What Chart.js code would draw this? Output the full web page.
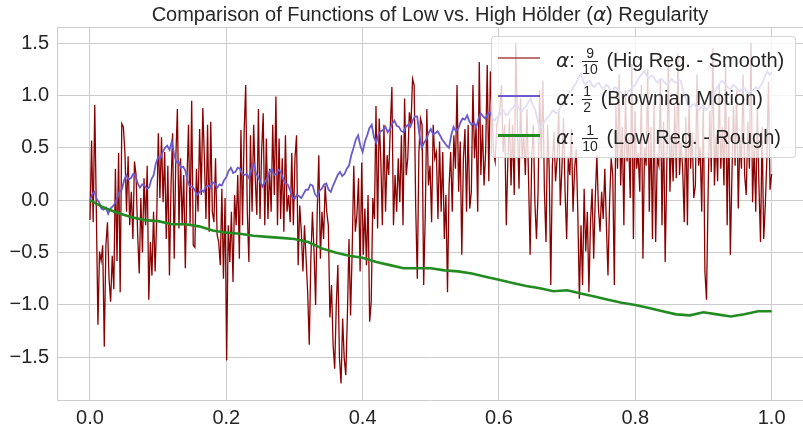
<!DOCTYPE html>
<html lang="en">
<head>
<meta charset="UTF-8">
<title>Hölder regularity</title>
<script src="https://cdn.jsdelivr.net/npm/chart.js@4.4.1/dist/chart.umd.min.js"></script>
<style>
  body { margin: 0; background: #fff; }
  #wrap { position: relative; width: 803px; height: 425px; }
  #legend {
    position: absolute; left: 491px; top: 36px; width: 303px; height: 120px;
    background: rgba(255,255,255,0.8); border: 1px solid rgba(204,204,204,0.8); border-radius: 4px;
    font-family: "Liberation Sans", Arial, sans-serif; font-size: 20px; color: #262626;
  }
  .row { position: absolute; left: 0; height: 0; }
  .handle { position: absolute; left: 6px; width: 42px; top: -1px; height: 2px; }
  .label { position: absolute; left: 64px; top: -12px; white-space: nowrap; line-height: 24px; }
  .alpha { font-family: "DejaVu Sans"; font-style: italic; }
  .frac { display: inline-block; vertical-align: middle; text-align: center; font-size: 14px; line-height: 15px; margin: 0 3px 0 2px; }
  .frac span { display: block; }
  .frac .num { border-bottom: 1.3px solid #262626; padding: 0 1px; }
</style>
</head>
<body>
<div id="wrap">
  <canvas id="chart" width="803" height="425"></canvas>
  <div id="legend">
    <div class="row" style="top:21px"><div class="handle" style="background:rgba(139,0,0,0.55)"></div>
      <div class="label"><span class="alpha">α</span>: <span class="frac"><span class="num">9</span><span>10</span></span> (Hig Reg. - Smooth)</div></div>
    <div class="row" style="top:59px"><div class="handle" style="background:#6a5acd"></div>
      <div class="label"><span class="alpha">α</span>: <span class="frac"><span class="num">1</span><span>2</span></span> (Brownian Motion)</div></div>
    <div class="row" style="top:98px"><div class="handle" style="background:#228b22;height:3px;top:-1.5px"></div>
      <div class="label"><span class="alpha">α</span>: <span class="frac"><span class="num">1</span><span>10</span></span> (Low Reg. - Rough)</div></div>
  </div>
</div>

<script>
// title pieces (alpha drawn in italic)
var TITLE_PARTS = ['Comparison of Functions of Low vs. High Hölder (', 'α', ') Regularity'];
var SERIES_LABELS = ['α: 9/10 (Hig Reg. - Smooth)', 'α: 1/2 (Brownian Motion)', 'α: 1/10 (Low Reg. - Rough)'];
var X_TICKS = [0, 0.2, 0.4, 0.6, 0.8, 1.0];
var Y_TICKS = [-1.5, -1.0, -0.5, 0, 0.5, 1.0, 1.5];

var redPart1 = [-0.19, 0.57, -0.21, 0.91, -0.11, -1.19, -0.49, -0.58, -0.43, -1.40,
  -0.43, -0.21, -0.75, -0.97, -0.53, -0.85, 0.30, -0.58, 0.45, -0.88,
  0.73, 0.70, 0.45, -0.11, 0.42, -0.24, 0.08, -0.37, 0.37, 0.24,
  -0.33, -0.70, 0.02, -0.50, 0.21, -0.24, 0.33, -0.95, -0.40, -0.72,
  -0.11, -0.68, -0.16, 0.64, 0.02, 0.60, -0.02, 0.46, -0.37, 0.33,
  -0.72, 0.14, 0.64, -0.56, 0.40, 0.87, -0.27, 0.40, -0.24, 0.24,
  -0.65, 0.18, 0.72, -0.24, 0.95, -0.43, -0.45, 0.30, -0.11, 0.68,
  0.05, 0.88, 0.40, -0.18, 0.72, -0.30, 0.75, -0.11, -0.21, 0.40,
  -0.33, -0.40, -0.62, 0.11, -0.75, 0.02, -1.53, -0.24, -0.59, -0.11,
  -0.78, 0.05, -0.24, 0.24, -0.56, 0.67, -0.24, 0.65, 1.10, -0.11,
  -0.59, 0.62, -0.11, 0.72];
var redPart2 = [0.21, -0.14, 0.87, -0.18, 0.46, 0.83, -0.24, 0.59, -0.18, 0.30,
  -0.11, 0.72, 0.05, 0.99, -0.24, 0.59, -0.18, 0.40, -0.30, 0.62,
  -0.11, 0.05, -0.21, 0.45, -0.24, 0.40, 0.62, -0.62, -0.05, -0.30,
  -0.68, -0.24, -0.56, -0.88, -1.38, -0.56, -0.11, -0.49, -1.00, -0.11,
  0.43, -0.56, -0.11, -0.37, 0.14, -0.11, -0.24, -1.12, -0.81, -1.38,
  -1.61, -1.00, -0.62, -1.51, -1.75, -1.13, -1.51, -1.67, -1.10, -0.37,
  -1.10, -0.49, 0.33, -0.30, -0.14, 0.21, -0.68, 0.36, -0.52, -0.08,
  -0.62, 0.05, -1.16, -0.97, 0.02, -0.18, 0.90, -0.27, 0.78, 0.40,
  -0.24, 0.72, -0.11, 0.43, 0.24, 0.70, 1.08, -0.24, 0.24, -0.11,
  0.40, -0.02, 0.62, -0.24, 0.97, 0.24, 0.40, 0.84, 0.72, 1.16,
  1.10, -0.08, -0.75, 0.46, 0.78, 0.72, -0.81, -0.14, 0.87, 0.14,
  0.33, -0.21, 0.72, 0.40, 0.46];
var redPart3 = [-0.18, 0.56, -0.11, 0.46, -0.37, 0.05, -0.88, 0.14, 0.46, -0.11,
  0.62, 0.30, 1.10, 0.08, 0.56, -0.52, 0.40, 0.68, -0.11, 0.72,
  -0.08, 0.08, 1.10, 0.40, 0.72, -0.11, 1.32, 0.24, 0.72, 0.14,
  0.46, 1.29, 0.18, 1.23, 0.84, 0.46, 0.37, 0.72, 0.78, 0.87,
  1.10, 0.46, 0.72, -0.24, 0.40, 0.78, 0.14, 0.72, 0.05, 1.50,
  0.72, 0.11, 0.97, 0.40, 0.62, 0.24, 0.87, 0.21, -0.52, 0.40,
  0.72, -0.02, -0.37, 0.08, 1.05, 0.40, 1.14, 0.08, -0.40, 0.72,
  0.30, -0.81, 0.33, 0.65, 0.18, 0.40, 0.87, -0.05, 0.30, 0.78,
  0.08, -0.37, 0.40, 0.24, 0.68, -0.11, 0.30, 0.49, -0.11, -0.94,
  -0.24, -0.81, 0.11, -0.49, -0.11, -0.88, -0.21, 0.11, -0.56, 0.02,
  0.43, -0.08, -0.30, 0.08, -0.18, 0.30, -0.24, -0.72, -0.02, 0.40, 0.24];
var redPart4 = [-0.81, 0.90, 0.30, 1.20, 0.14, 0.70, -0.24, 1.05, 0.37, 0.60,
  0.02, 1.30, -0.37, 0.85, 0.30, 0.45, 0.08, 1.10, -0.56, 0.50,
  0.33, 1.25, -0.11, 0.70, -0.37, 0.95, -0.40, 0.40, 0.33, 1.15,
  -0.24, 0.75, -0.59, 0.30, 1.35, 0.08, 0.60, 0.18, 0.90, 0.21,
  1.40, 0.24, 0.55, 0.30, -0.21, 0.80, -0.24, 1.00, 0.30, 0.65,
  0.02, 0.14, 1.20, 0.33, 0.50, -0.11, 0.95, -0.68, -0.95, 0.05,
  0.85, 0.27, 1.45, 0.14, 0.62, 0.18, 1.10, 0.30, 0.70, 0.14,
  1.30, -0.24, 0.80, -0.52, 0.24, 0.90, 0.33, 1.05, -0.08, 0.60,
  0.30, 1.20, 0.24, 0.05, 0.75, 0.30, 1.50, -0.02, 0.50, -0.11,
  0.90, 0.14, -0.40, 0.70, -0.37, -0.05, 0.40, 1.13, 0.10, 0.25];
var redValues = redPart1.concat(redPart2, redPart3, redPart4);

// slate blue (Brownian) series
var blueValues = [0.00, 0.06, 0.08, 0.01, -0.02, -0.08, -0.09, -0.07, -0.13, -0.08, -0.06, -0.03, 0.02, 0.08, 0.10, 0.19, 0.24, 0.20, 0.21, 0.25,
  0.24, 0.16, 0.12, 0.15, 0.14, 0.11, 0.12, 0.20, 0.24, 0.35, 0.41, 0.40, 0.46, 0.50, 0.52, 0.48, 0.56, 0.44, 0.36, 0.37,
  0.31, 0.32, 0.28, 0.18, 0.13, 0.13, 0.10, 0.05, 0.07, 0.10, 0.08, 0.13, 0.14, 0.12, 0.17, 0.16, 0.12, 0.15, 0.14, 0.19,
  0.22, 0.28, 0.31, 0.26, 0.27, 0.31, 0.30, 0.25, 0.24, 0.25, 0.21, 0.30, 0.35, 0.26, 0.22, 0.17, 0.13, 0.18, 0.20, 0.27,
  0.30, 0.24, 0.25, 0.29, 0.27, 0.20, 0.16, 0.15, 0.10, 0.03, 0.01, 0.05, 0.04, 0.02, 0.06, 0.10, 0.10, 0.15, 0.14, 0.06,
  0.03, 0.09, 0.11, 0.15, 0.16, 0.10, 0.08, 0.14, 0.19, 0.24, 0.27, 0.23, 0.25, 0.30, 0.33, 0.43, 0.50, 0.58, 0.62, 0.52,
  0.46, 0.56, 0.62, 0.69, 0.72, 0.60, 0.55, 0.63, 0.66, 0.67, 0.70, 0.65, 0.68, 0.73, 0.76, 0.71, 0.70, 0.66, 0.65, 0.70,
  0.72, 0.70, 0.76, 0.80, 0.80, 0.62, 0.50, 0.55, 0.58, 0.64, 0.68, 0.63, 0.64, 0.66, 0.62, 0.58, 0.55, 0.52, 0.50, 0.62,
  0.70, 0.66, 0.68, 0.74, 0.78, 0.77, 0.81, 0.75, 0.72, 0.74, 0.70, 0.78, 0.83, 0.80, 0.78, 0.82, 0.84, 0.79, 0.76, 0.79,
  0.80, 0.84, 0.86, 0.81, 0.82, 0.86, 0.88, 0.91, 0.92, 0.87, 0.85, 0.88, 0.90, 0.94, 0.97, 0.90, 0.86, 0.76, 0.68, 0.72,
  0.75, 0.78, 0.80, 0.84, 0.86, 0.83, 0.84, 0.89, 0.92, 0.95, 0.98, 1.03, 1.05, 1.09, 1.12, 1.17, 1.21, 1.14, 1.10, 1.13,
  1.14, 1.10, 1.08, 1.11, 1.12, 1.08, 1.06, 1.10, 1.09, 1.05, 1.04, 1.08, 1.07, 1.04, 1.02, 0.99, 1.00, 1.04, 1.06, 1.09,
  1.10, 1.15, 1.18, 1.21, 1.23, 1.19, 1.16, 1.19, 1.18, 1.14, 1.12, 1.16, 1.15, 1.12, 1.10, 1.13, 1.16, 1.13, 1.12, 1.15,
  1.14, 1.05, 0.98, 0.91, 0.88, 0.91, 0.92, 0.88, 0.86, 0.89, 0.90, 0.86, 0.88, 0.92, 0.96, 1.03, 1.08, 1.11, 1.14, 1.12,
  1.10, 1.07, 1.06, 1.10, 1.09, 1.06, 1.04, 1.06, 1.07, 1.04, 1.02, 1.04, 1.05, 1.08, 1.06, 1.09, 1.12, 1.18, 1.23, 1.20,
  1.22];

// forest green series
var greenValues = [0.00, -0.07, -0.12, -0.16, -0.19, -0.20, -0.23, -0.23, -0.25, -0.29,
  -0.31, -0.32, -0.34, -0.35, -0.36, -0.37, -0.40, -0.46, -0.50, -0.53,
  -0.55, -0.59, -0.62, -0.65, -0.65, -0.65, -0.67, -0.68, -0.70, -0.73,
  -0.76, -0.79, -0.82, -0.84, -0.87, -0.86, -0.89, -0.92, -0.95, -0.98,
  -1.00, -1.03, -1.06, -1.09, -1.10, -1.07, -1.09, -1.11, -1.09, -1.06, -1.06];

var FONT = '"Liberation Sans", Arial, sans-serif';
var TEXT = '#262626';
var GRID = '#cccccc';

function toPoints(vals) {
  return vals.map(function (v, i) { return { x: i / (vals.length - 1), y: v }; });
}

var framePlugin = {
  id: 'frame',
  beforeDatasetsDraw: function (chart) {
    var a = chart.chartArea, ctx = chart.ctx;
    ctx.save();
    ctx.strokeStyle = GRID;
    ctx.lineWidth = 1;
    ctx.beginPath();
    ctx.moveTo(a.left, Math.round(a.top) + 0.5);
    ctx.lineTo(a.right, Math.round(a.top) + 0.5);
    ctx.stroke();
    ctx.restore();
  }
};

var titlePlugin = {
  id: 'topTitle',
  afterDraw: function (chart) {
    var ctx = chart.ctx, a = chart.chartArea;
    var fonts = ['20px ' + FONT, 'italic 20px "DejaVu Sans"', '20px ' + FONT];
    ctx.save();
    var total = 0, widths = [];
    for (var i = 0; i < 3; i++) {
      ctx.font = fonts[i];
      widths.push(ctx.measureText(TITLE_PARTS[i]).width);
      total += widths[i];
    }
    var x = (a.left + a.right) / 2 - total / 2;
    ctx.fillStyle = TEXT;
    ctx.textBaseline = 'alphabetic';
    ctx.textAlign = 'left';
    for (var j = 0; j < 3; j++) {
      ctx.font = fonts[j];
      ctx.fillText(TITLE_PARTS[j], x, 21);
      x += widths[j];
    }
    ctx.restore();
  }
};

var ctx = document.getElementById('chart').getContext('2d');
new Chart(ctx, {
  type: 'line',
  data: {
    datasets: [{
      label: SERIES_LABELS[0],
      data: toPoints(redValues),
      borderColor: '#8b0000',
      borderWidth: 1.3,
      pointRadius: 0,
      order: 3
    }, {
      label: SERIES_LABELS[1],
      data: toPoints(blueValues),
      borderColor: '#6a5acd',
      borderWidth: 1.8,
      pointRadius: 0,
      order: 2
    }, {
      label: SERIES_LABELS[2],
      data: toPoints(greenValues),
      borderColor: '#228b22',
      borderWidth: 2.6,
      pointRadius: 0,
      order: 1
    }]
  },
  options: {
    responsive: false,
    animation: false,
    layout: { padding: { top: 27, left: 0, right: 0, bottom: 0 } },
    plugins: { legend: { display: false }, tooltip: { enabled: false } },
    scales: {
      x: {
        type: 'linear',
        min: -0.0484,
        max: 1.046,
        afterBuildTicks: function (s) { s.ticks = X_TICKS.map(function (v) { return { value: v }; }); },
        afterFit: function (s) { s.height = 25; },
        grid: { color: GRID, lineWidth: 1, drawTicks: false },
        border: { color: GRID },
        ticks: {
          padding: 6, color: TEXT, font: { family: FONT, size: 20 },
          maxRotation: 0, autoSkip: false,
          callback: function (v) { return v.toFixed(1); }
        }
      },
      y: {
        type: 'linear',
        min: -1.908,
        max: 1.654,
        afterBuildTicks: function (s) { s.ticks = Y_TICKS.map(function (v) { return { value: v }; }); },
        afterFit: function (s) { s.width = 57; },
        grid: { color: GRID, lineWidth: 1, drawTicks: false },
        border: { color: GRID },
        ticks: {
          padding: 8, color: TEXT, font: { family: FONT, size: 20 },
          callback: function (v) { return (v < 0 ? '\u2212' : '') + Math.abs(v).toFixed(1); }
        }
      }
    }
  },
  plugins: [framePlugin, titlePlugin]
});
</script>
</body>
</html>
